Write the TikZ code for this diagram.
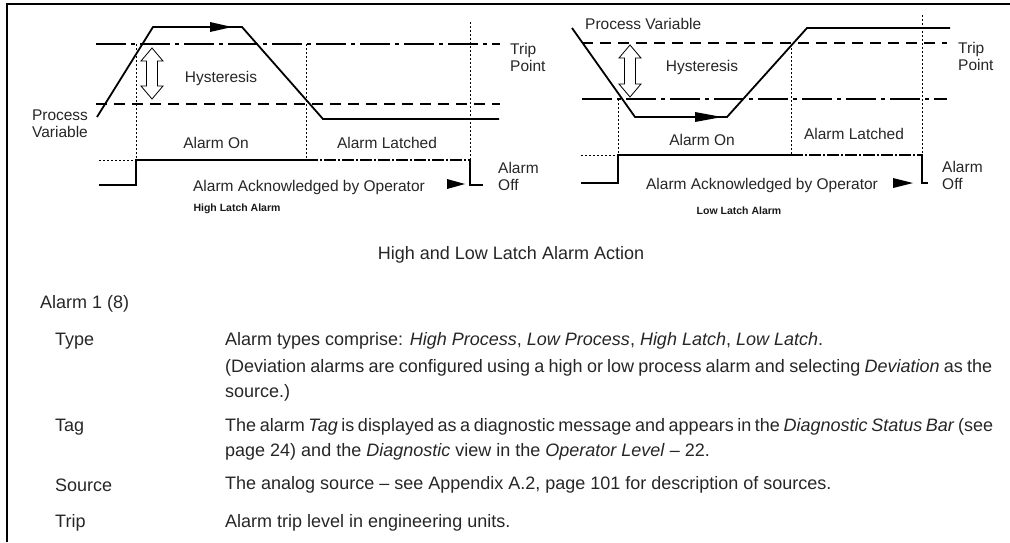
\documentclass[tikz,border=0pt]{standalone}
\usepackage{fontspec}
\setmainfont{Liberation Sans}
\usetikzlibrary{positioning}

\tikzset{
  pvline/.style={black, line width=1.8pt, line join=miter},
  sigline/.style={black, line width=1.8pt},
  tripline/.style={black, line width=1.1pt, dash pattern=on 30pt off 5pt on 4pt off 5pt},
  hystline/.style={black, line width=1.1pt, dash pattern=on 11pt off 7pt},
  guide/.style={black, line width=0.7pt, dash pattern=on 2pt off 2pt},
  latchline/.style={black, line width=1.4pt, dash pattern=on 12pt off 2pt on 2pt off 2pt},
  figtxt/.style={inner sep=0pt, text=black!85, font=\fontsize{15.5}{17}\selectfont},
  lbltxt/.style={inner sep=0pt, text=black!90, font=\fontsize{10.5}{12}\selectfont\bfseries},
  bodytxt/.style={inner sep=0pt, anchor=west, text=black!85, font=\fontsize{18}{21}\selectfont}
}

% hollow double arrow for hysteresis band
\newcommand{\hystarrow}[3]{%
  \draw[black, line width=0.8pt, fill=white]
    (#1,#2) -- (#1+11,#2+13) -- (#1+5.5,#2+13) -- (#1+5.5,#3-13) -- (#1+11,#3-13)
    -- (#1,#3) -- (#1-11,#3-13) -- (#1-5.5,#3-13) -- (#1-5.5,#2+13) -- (#1-11,#2+13) -- cycle;
}
% filled arrowhead, tip at (x,y)
\newcommand{\headtip}[3]{%
  \fill[black] (#1,#2) -- (#1-#3,#2-5) -- (#1-#3,#2+5) -- cycle;
}

\begin{document}
\begin{tikzpicture}[x=1pt, y=-1pt]
  \useasboundingbox (0,0) rectangle (1010,542);

  % page frame
  \draw[black, line width=1.4pt] (7,542) -- (7,4) -- (1010,4);

  %% ---------------- High latch alarm ----------------
  % trip point and hysteresis levels
  \draw[tripline] (96,44) -- (500,44);
  \draw[hystline] (96,104) -- (500,104);

  % guides
  \draw[guide] (136,44) -- (136,160);
  \draw[guide] (306,44) -- (306,160);
  \draw[guide] (470,22) -- (470,160);
  \draw[guide] (99,160) -- (136,160);

  % process variable
  \draw[pvline] (97,117) -- (153,27) -- (242,27) -- (323,119) -- (499,119);
  \headtip{232}{27}{22}

  % alarm state
  \draw[sigline] (99,185) -- (136,185) -- (136,160) -- (306,160);
  \draw[latchline] (306,160) -- (470,160);
  \draw[sigline] (470,159) -- (470,185) -- (483,185);
  \headtip{465}{184}{18}

  \hystarrow{152}{48}{99}

  \node[figtxt, align=center] (hPV) at (60,124) {Process\\Variable};
  \node[figtxt] (hHyst) at (221,78) {Hysteresis};
  \node[figtxt] (hOn) at (216,143) {Alarm On};
  \node[figtxt] (hLatch) at (387,143) {Alarm Latched};
  \node[figtxt] (hAck) at (309,187) {Alarm Acknowledged by Operator};
  \node[figtxt, anchor=west, align=left] (hTrip) at (510,57) {Trip\\Point};
  \node[figtxt, anchor=west, align=left] (hOff) at (498,176) {Alarm\\Off};
  \node[lbltxt] (hTitle) at (237,209) {High Latch Alarm};

  %% ---------------- Low latch alarm ----------------
  \draw[hystline] (582,43) -- (947,43);
  \draw[tripline] (582,99) -- (947,99);

  \draw[guide] (618,99) -- (618,155);
  \draw[guide] (791,44) -- (791,155);
  \draw[guide] (922,15) -- (922,155);
  \draw[guide] (581,155) -- (618,155);

  \draw[pvline] (572,28) -- (635,117) -- (727,117) -- (807,28) -- (950,28);
  \headtip{722}{117}{27}

  \draw[sigline] (581,183) -- (618,183) -- (618,155) -- (791,155);
  \draw[latchline] (791,155) -- (922,155);
  \draw[sigline] (922,154) -- (922,183) -- (928,183);
  \headtip{913}{183}{20}

  \hystarrow{630}{45}{97}

  \node[figtxt, anchor=west] (lPV) at (585,24) {Process Variable};
  \node[figtxt] (lHyst) at (702,67) {Hysteresis};
  \node[figtxt] (lOn) at (702,140) {Alarm On};
  \node[figtxt] (lLatch) at (854,134) {Alarm Latched};
  \node[figtxt] (lAck) at (762,185) {Alarm Acknowledged by Operator};
  \node[figtxt, anchor=west, align=left] (lTrip) at (958,56) {Trip\\Point};
  \node[figtxt, anchor=west, align=left] (lOff) at (942,175) {Alarm\\Off};
  \node[lbltxt] (lTitle) at (739,211) {Low Latch Alarm};

  %% ---------------- caption and parameter text ----------------
  \node[bodytxt, anchor=center] (cap) at (511,255) {High and Low Latch Alarm Action};
  \node[bodytxt] (alm) at (40,304) {Alarm 1 (8)};

  \node[bodytxt] (kType) at (55,341) {Type};
  \node[bodytxt] (vType) at (225,341) {Alarm types comprise: \textit{High Process}, \textit{Low Process}, \textit{High Latch}, \textit{Low Latch}.};
  \node[bodytxt] (vType2) at (225,368) {\makebox[767pt][s]{(Deviation alarms are configured using a high or low process alarm and selecting \textit{Deviation} as the}};
  \node[bodytxt] (vType3) at (225,393) {source.)};

  \node[bodytxt] (kTag) at (55,427) {Tag};
  \node[bodytxt] (vTag) at (225,427) {\makebox[768pt][s]{The alarm \textit{Tag} is displayed as a diagnostic message and appears in the \textit{Diagnostic Status Bar} (see}};
  \node[bodytxt] (vTag2) at (225,452) {page 24) and the \textit{Diagnostic} view in the \textit{Operator Level} – 22.};

  \node[bodytxt] (kSrc) at (55,485) {Source};
  \node[bodytxt] (vSrc) at (225,485) {The analog source – see Appendix A.2, page 101 for description of sources.};

  \node[bodytxt] (kTrip) at (55,523) {Trip};
  \node[bodytxt] (vTrip) at (225,523) {Alarm trip level in engineering units.};
\end{tikzpicture}
\end{document}
